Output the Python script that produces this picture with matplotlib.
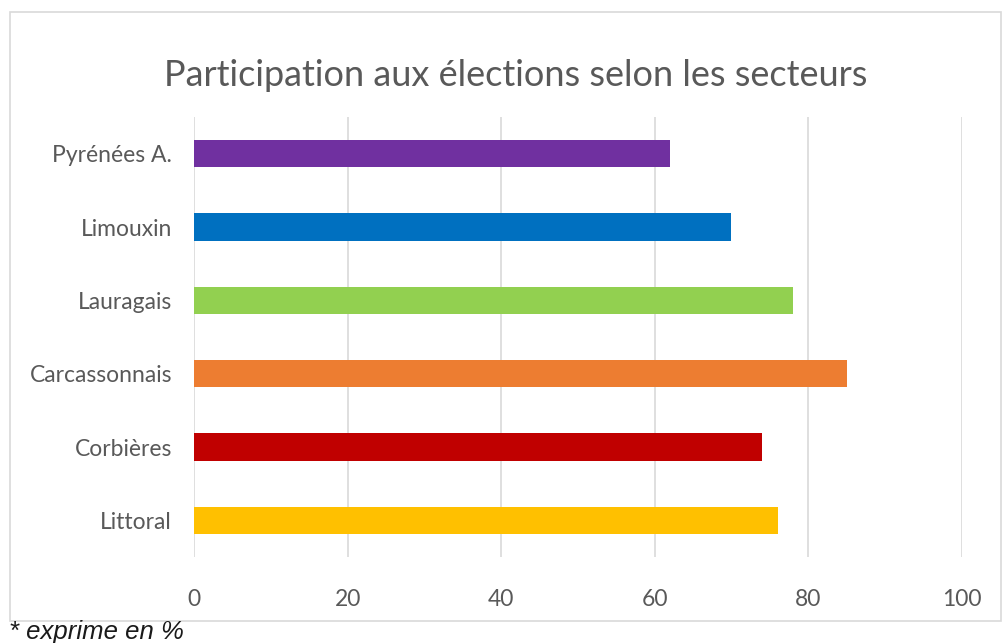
import matplotlib
matplotlib.use("Agg")
import matplotlib.pyplot as plt
from matplotlib.patches import Rectangle

categories = ["Littoral", "Corbières", "Carcassonnais", "Lauragais", "Limouxin", "Pyrénées A."]
values = [76, 74, 85, 78, 70, 62]
colors = ["#FFC000", "#C00000", "#ED7D31", "#92D050", "#0070C0", "#7030A0"]
xticks = [0, 20, 40, 60, 80, 100]
title = "Participation aux élections selon les secteurs"
footnote = "* exprime en %"

fig = plt.figure(figsize=(10.02, 6.43), dpi=100)
W, H = 1002, 643

# outer chart border
fig.patches.append(Rectangle((10 / W, 1 - 621 / H), (1001 - 10) / W, (621 - 12) / H,
                             transform=fig.transFigure, fill=False,
                             edgecolor="#d9d9d9", linewidth=1.2))

ax = fig.add_axes([194.2 / W, 1 - 557 / H, (961.7 - 194.2) / W, 440 / H])
y = list(range(len(categories)))
ax.barh(y, values, height=0.37, color=colors, zorder=3)
ax.set_xlim(0, 100)
ax.set_ylim(-0.5, len(categories) - 0.5)
ax.set_xticks(xticks)
ax.set_xticklabels([str(t) for t in xticks])
ax.set_yticks(y)
ax.set_yticklabels(categories)
ax.grid(axis="x", color="#d9d9d9", linewidth=1.2, zorder=0)
for s in ax.spines.values():
    s.set_visible(False)
ax.tick_params(axis="both", length=0, labelsize=16.5, labelcolor="#595959")
ax.tick_params(axis="x", pad=23)
ax.tick_params(axis="y", pad=16)
for lab in ax.get_xticklabels() + ax.get_yticklabels():
    lab.set_fontfamily("Lato")

fig.text(515.5 / W, 1 - 86 / H, title, ha="center", va="baseline",
         fontsize=26, color="#595959", fontfamily="Lato")
fig.text(9 / W, 1 - 639 / H, footnote, ha="left", va="baseline",
         fontsize=18.5, style="italic", color="#1a1a1a", fontfamily="Liberation Sans")

fig.savefig("out.png", dpi=100)
